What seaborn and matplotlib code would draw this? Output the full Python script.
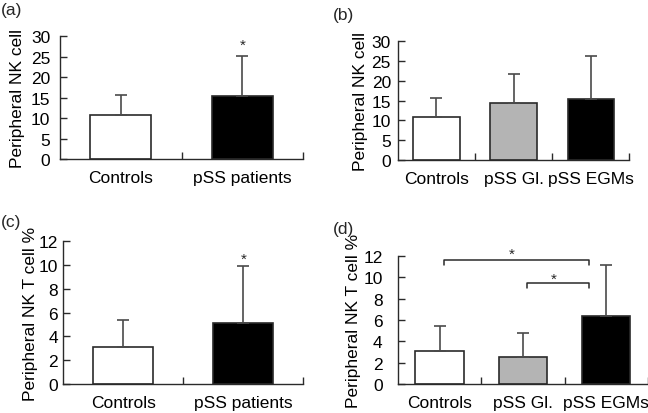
import matplotlib
matplotlib.use("Agg")
import matplotlib.pyplot as plt
import seaborn as sns
import pandas as pd

sns.set_theme(style="white")
plt.rcParams['font.family'] = ['Liberation Sans', 'DejaVu Sans']

# ---- data ----
cats_2 = ["Controls", "pSS patients"]
cats_3 = ["Controls", "pSS Gl.", "pSS EGMs"]

nk_2_mean = [10.8, 15.4]
nk_2_sd = [4.9, 9.8]
nk_3_mean = [10.8, 14.5, 15.5]
nk_3_sd = [4.8, 7.2, 10.8]

nkt_2_mean = [3.1, 5.1]
nkt_2_sd = [2.25, 4.8]
nkt_3_mean = [3.1, 2.5, 6.35]
nkt_3_sd = [2.35, 2.3, 4.85]

colors_2 = ["white", "black"]
colors_3 = ["white", "#b4b4b4", "black"]

nk_ticks = [0, 5, 10, 15, 20, 25, 30]
nkt_ticks = [0, 2, 4, 6, 8, 10, 12]

# significance annotations (category position, value)
star_a = (1, 27.9)
star_c = (1, 10.5)
brackets_d = [(0.05, 1.79, 11.6, 11.15), (1.05, 1.79, 9.45, 9.0)]
stars_d = [(0.87, 12.2), (1.37, 9.9)]

EDGE = "#2a2a2a"
ERR = "#4a4a4a"

fig = plt.figure(figsize=(6.48, 4.14), dpi=100)

def panel(rect, cats, means, sds, colors, ticks, ylabel, width, ypad, labx):
    ax = fig.add_axes(rect)
    df = pd.DataFrame({"group": cats, "value": means})
    sns.barplot(data=df, x="group", y="value", hue="group", palette=colors,
                order=cats, hue_order=cats, width=width, edgecolor=EDGE,
                linewidth=1.2, legend=False, errorbar=None, ax=ax)
    for i, (m, s) in enumerate(zip(means, sds)):
        ax.errorbar(i, m, yerr=[[0], [s]], fmt="none", ecolor=ERR,
                    elinewidth=1.2, capsize=4, capthick=1.2, zorder=3)
    n = len(cats)
    ax.set_xlim(-0.5, n - 0.5)
    ax.set_ylim(ticks[0], ticks[-1])
    ax.set_yticks(ticks)
    ax.set_yticklabels([str(t) for t in ticks], fontsize=12.5)
    ax.set_xticks([i + 0.5 for i in range(n)], minor=True)
    ax.set_xticks(range(n))
    ax.set_xticklabels(cats, fontsize=12.5)
    ax.tick_params(axis="x", which="major", length=0, pad=8, colors="black")
    ax.tick_params(axis="x", which="minor", direction="in", length=5,
                   width=1.0, color=EDGE, bottom=True)
    ax.tick_params(axis="y", direction="in", length=5, width=1.0, color=EDGE,
                   left=True, pad=ypad, labelcolor="black")
    ax.set_xlabel("")
    ax.set_ylabel(ylabel, fontsize=12.5, color="black")
    ax.yaxis.set_label_coords(labx, 0.5)
    ax.yaxis.label.set_verticalalignment("center")
    for s in ["top", "right"]:
        ax.spines[s].set_visible(False)
    for s in ["left", "bottom"]:
        ax.spines[s].set_color(EDGE)
        ax.spines[s].set_linewidth(1.0)
    return ax

ax_a = panel([0.0926, 0.6135, 0.375, 0.297], cats_2, nk_2_mean, nk_2_sd,
             colors_2, nk_ticks, "Peripheral NK cell", 0.5, 7, -0.173)
ax_a.text(star_a[0], star_a[1], "*", ha="center", va="center", fontsize=11)

ax_b = panel([0.614, 0.611, 0.357, 0.287], cats_3, nk_3_mean, nk_3_sd,
             colors_3, nk_ticks, "Peripheral NK cell", 0.6, 5, -0.160)

ax_c = panel([0.0972, 0.070, 0.371, 0.345], cats_2, nkt_2_mean, nkt_2_sd,
             colors_2, nkt_ticks, "Peripheral NK T cell %", 0.5, 3.6, -0.135)
ax_c.text(star_c[0], star_c[1], "*", ha="center", va="center", fontsize=11)

ax_d = panel([0.614, 0.070, 0.386, 0.309], cats_3, nkt_3_mean, nkt_3_sd,
             colors_3, nkt_ticks, "Peripheral NK T cell %", 0.58, 11, -0.178)
for x0, x1, y, yd in brackets_d:
    ax_d.plot([x0, x0, x1, x1], [yd, y, y, yd], color=EDGE, lw=1.1,
              clip_on=False)
for x, y in stars_d:
    ax_d.text(x, y, "*", ha="center", va="center", fontsize=11)

fig.text(0.002, 0.975, "(a)", fontsize=12.5, ha="left", va="center")
fig.text(0.513, 0.963, "(b)", fontsize=12.5, ha="left", va="center")
fig.text(0.002, 0.463, "(c)", fontsize=12.5, ha="left", va="center")
fig.text(0.513, 0.446, "(d)", fontsize=12.5, ha="left", va="center")

fig.savefig("out.png", dpi=100)
